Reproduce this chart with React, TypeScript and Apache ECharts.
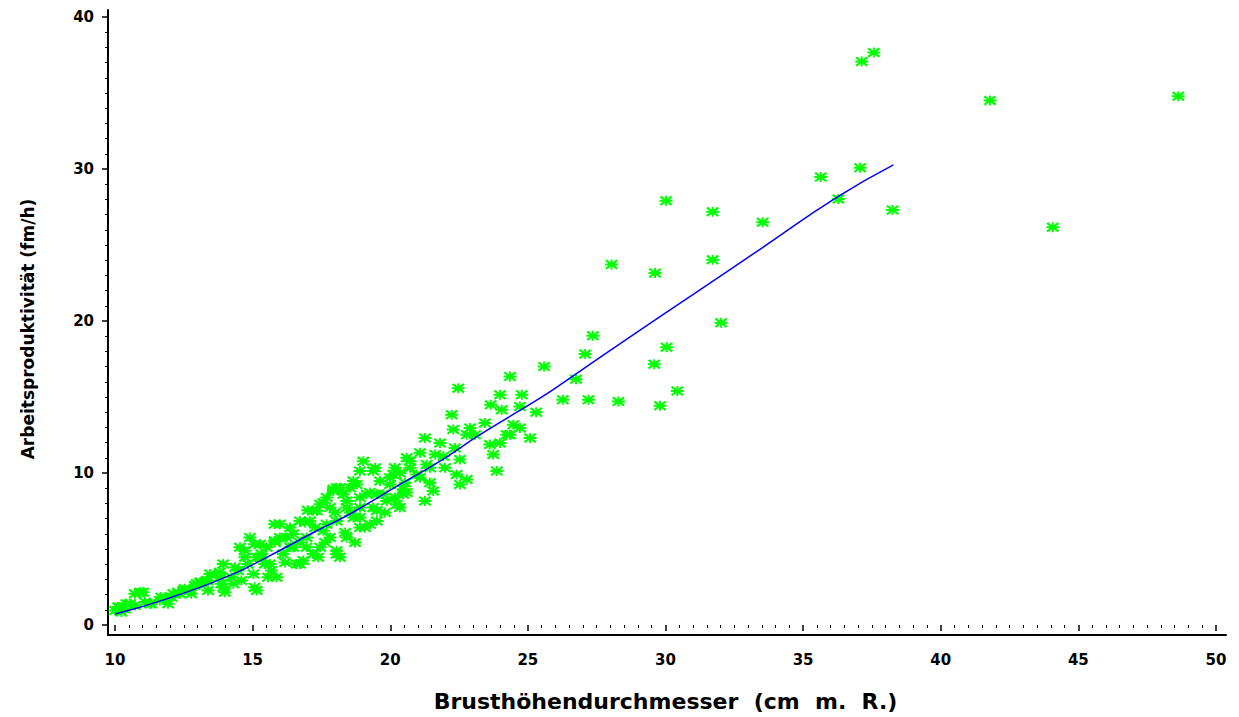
import React, { useEffect, useRef } from "react";
import * as echarts from "echarts";

// Scatter observations: diameter (cm) and productivity (fm/h)
const diameter: number[] = [
  37.13, 37.57, 41.79, 48.63, 35.64, 37.07, 36.28, 38.25, 44.07,
  30.02, 31.71, 33.53, 28.04, 29.62, 31.71, 32.02, 27.36, 27.08, 26.75, 30.04, 29.59, 30.43, 25.59, 26.27, 27.2, 28.29, 29.8, 25.3,
  24.35, 22.47, 23.99, 24.78, 23.65, 24.05, 24.71, 22.23, 24.47, 24.35, 25.08, 22.29, 22.78, 23.08, 23.62, 23.74, 23.87, 21.26, 22.35, 21.63, 22.53, 20.72, 21.32, 22.41, 22.78, 22.53, 21.56, 21.26, 20.96, 19.02, 18.9, 19.63, 19.99, 17.93, 19.14, 19.75, 17.57, 18.42, 19.38, 20.47, 20.35,
  24.23, 24.71, 20.6, 21.93, 21.44, 21.08, 20.6,
  18.05, 17.33, 17.81, 18.42, 18.54, 18.9, 19.51, 18.9, 18.05, 17.08, 16.72, 15.99, 15.99, 16.48, 16.96, 17.57, 17.81, 18.05, 16.96, 16.48, 16.11, 16.84, 17.45, 15.27, 15.15, 15.63, 15.03, 15.87, 16.6,
  18.78, 19.26, 18.05, 15.15, 13.93, 13.93, 13.33, 12.48, 12.12, 11.63, 10.91, 10.18, 10.0, 10.54,
  10.11, 10.41, 10.72, 10.23, 10.72, 11.02, 11.32, 11.68, 12.05, 11.93, 12.29, 12.53, 12.9, 13.14, 13.38, 12.77, 13.38, 13.86, 13.99, 14.23, 14.47, 14.59, 14.83, 14.71, 15.07, 15.32, 15.07, 15.44, 15.8, 15.68, 15.8,
  16.24, 17.2, 17.45, 17.93, 18.17, 17.69, 16.72, 17.2, 18.42, 18.66, 18.9, 19.51, 19.87, 20.11, 19.38, 14.54, 14.9, 15.51, 15.27, 13.45, 12.97, 13.81, 14.3, 12.36, 11.27,
  20.47, 20.23, 19.99, 19.51, 18.66, 18.3, 17.69, 17.0, 20.35,
  15.34, 15.56, 16.18, 16.36, 16.72, 17.38, 17.63, 18.17, 18.36, 17.27, 18.72, 19.08, 18.9, 19.26, 19.81, 20.17, 20.54, 20.72, 20.17, 19.45, 18.54, 17.99, 16.9, 16.36, 15.81, 14.72, 14.36, 13.81, 13.09, 12.72, 11.82, 11.09, 10.36,
  21.08, 21.81, 21.99, 21.44, 22.9, 23.44, 23.99,
];
const productivity: number[] = [
  37.07, 37.66, 34.5, 34.78, 29.48, 30.09, 28.02, 27.3, 26.17,
  27.91, 27.19, 26.49, 23.72, 23.16, 24.03, 19.88, 19.03, 17.83, 16.17, 18.27, 17.15, 15.4, 17.0, 14.82, 14.82, 14.71, 14.42, 14.0,
  16.35, 15.58, 15.14, 15.14, 14.49, 14.16, 14.38, 13.83, 13.18, 12.52, 12.31, 12.86, 12.52, 12.52, 11.87, 11.21, 10.13, 12.31, 11.65, 11.21, 10.89, 10.78, 10.56, 9.9, 9.58, 9.25, 8.82, 8.16, 9.9, 10.78, 10.13, 9.47, 9.69, 8.93, 8.6, 8.6, 8.05, 7.73, 7.73, 8.93, 7.73,
  12.52, 12.96, 11.0, 11.1, 10.34, 9.69, 8.71,
  9.03, 7.51, 7.73, 8.16, 7.4, 6.42, 6.85, 7.07, 6.85, 6.85, 6.85, 6.63, 5.76, 5.98, 5.76, 6.2, 5.76, 4.89, 5.11, 5.11, 4.67, 4.24, 5.11, 5.32, 4.45, 4.01, 3.36, 3.14, 4.01,
  9.25, 6.63, 4.67, 2.27, 4.01, 2.49, 2.93, 2.27, 2.05, 1.62, 2.16, 1.18, 0.96, 1.39,
  1.18, 1.39, 1.29, 0.85, 2.05, 2.16, 1.39, 1.83, 1.83, 1.39, 2.16, 2.38, 2.6, 2.82, 2.93, 2.05, 2.27, 2.71, 2.16, 3.14, 3.58, 2.93, 4.01, 4.89, 5.32, 4.67, 2.49, 4.01, 6.63, 3.58, 5.54,
  5.76, 7.51, 7.94, 8.82, 9.03, 6.63, 4.01, 4.67, 5.76, 7.07, 8.38, 7.51, 8.16, 9.9, 10.13, 5.11, 5.76, 5.11, 4.45, 3.36, 2.71, 3.14, 2.71, 2.05, 1.39,
  8.6, 7.94, 9.25, 8.6, 9.47, 8.6, 8.38, 7.55, 10.0,
  4.45, 3.14, 4.12, 5.11, 5.43, 4.45, 5.43, 4.45, 6.09, 6.42, 5.43, 6.42, 7.73, 8.71, 7.4, 8.38, 9.36, 10.34, 10.34, 10.34, 9.03, 7.4, 6.74, 6.42, 5.43, 4.45, 3.8, 3.47, 2.82, 2.36, 1.83, 1.51, 1.05,
  11.33, 11.98, 10.34, 9.36, 12.96, 13.29, 11.98,
];

// Fitted curve
const curveX: number[] = [10, 11.88, 14.3, 15.51, 17.33, 18.3, 19.14, 20.35, 21.81, 23.26, 25.44, 26.17, 28.5, 31.13, 33.5, 36.22, 38.28];
const curveY: number[] = [0.72, 1.72, 3.36, 4.45, 6.2, 7.07, 7.94, 9.25, 10.78, 12.52, 14.93, 15.8, 18.7, 21.9, 24.8, 28.13, 30.27];

const xTicks = { min: 10, max: 50, step: 5 };
const yTicks = { min: 0, max: 40, step: 10 };

const xTitle = "Brusthöhendurchmesser  (cm  m.  R.)";
const yTitle = "Arbeitsproduktivität (fm/h)";

const STAR =
  "path://M0 4 H12 V6 H0 Z M5.1 0 H6.9 V10 H5.1 Z M0 1.5 L1.5 0 L12 8.5 L10.5 10 Z M10.5 0 L12 1.5 L1.5 10 L0 8.5 Z";

export default function App() {
  const ref = useRef<HTMLDivElement>(null);
  useEffect(() => {
    if (!ref.current) return;
    const chart = echarts.init(ref.current, undefined, { renderer: "svg" });
    const font = "DejaVu Sans";
    const points = diameter.map((d, i) => [d, productivity[i]]);
    const curve = curveX.map((d, i) => [d, curveY[i]]);
    chart.setOption({
      animation: false,
      backgroundColor: "#ffffff",
      grid: [
        { left: 108, right: 13, top: 10, bottom: 82 },
        { left: 115, right: 23, top: 17, bottom: 89 },
      ],
      xAxis: [
        {
          gridIndex: 0, type: "value", min: 0, max: 1,
          axisLine: { show: true, lineStyle: { color: "#000", width: 2 } },
          axisTick: { show: false }, axisLabel: { show: false }, splitLine: { show: false },
        },
        {
          gridIndex: 1, type: "value", min: xTicks.min, max: xTicks.max, interval: xTicks.step,
          offset: 7,
          axisLine: { show: false },
          axisTick: { show: true, length: 6, lineStyle: { color: "#000", width: 1.5 } },
          minorTick: { show: true, splitNumber: 10, length: 3, lineStyle: { color: "#000", width: 1 } },
          axisLabel: { margin: 20, color: "#000", fontFamily: font, fontWeight: "bold", fontSize: 15 },
          splitLine: { show: false },
          name: xTitle, nameLocation: "middle", nameGap: 58,
          nameTextStyle: { color: "#000", fontFamily: font, fontWeight: "bold", fontSize: 22 },
        },
      ],
      yAxis: [
        {
          gridIndex: 0, type: "value", min: 0, max: 1,
          axisLine: { show: true, lineStyle: { color: "#000", width: 2 } },
          axisTick: { show: false }, axisLabel: { show: false }, splitLine: { show: false },
        },
        {
          gridIndex: 1, type: "value", min: yTicks.min, max: yTicks.max, interval: yTicks.step,
          offset: 7,
          axisLine: { show: false },
          axisTick: { show: true, length: 6, lineStyle: { color: "#000", width: 1.5 } },
          minorTick: { show: true, splitNumber: 10, length: 3, lineStyle: { color: "#000", width: 1 } },
          axisLabel: { margin: 14, color: "#000", fontFamily: font, fontWeight: "bold", fontSize: 15 },
          splitLine: { show: false },
          name: yTitle, nameLocation: "middle", nameGap: 72,
          nameTextStyle: { color: "#000", fontFamily: font, fontWeight: "bold", fontSize: 17, padding: [0, 16, 0, 0] },
        },
      ],
      series: [
        {
          type: "scatter", xAxisIndex: 1, yAxisIndex: 1, clip: false,
          data: points, symbol: STAR, symbolSize: [13, 10],
          itemStyle: { color: "#00ff00", opacity: 1 },
        },
        {
          type: "line", xAxisIndex: 1, yAxisIndex: 1, data: curve, smooth: true,
          showSymbol: false, symbol: "none",
          lineStyle: { color: "#0000ff", width: 1.5 },
        },
      ],
    });
    return () => chart.dispose();
  }, []);
  return <div ref={ref} style={{ width: 1239, height: 717, position: "absolute", left: 0, top: 0 }} />;
}
